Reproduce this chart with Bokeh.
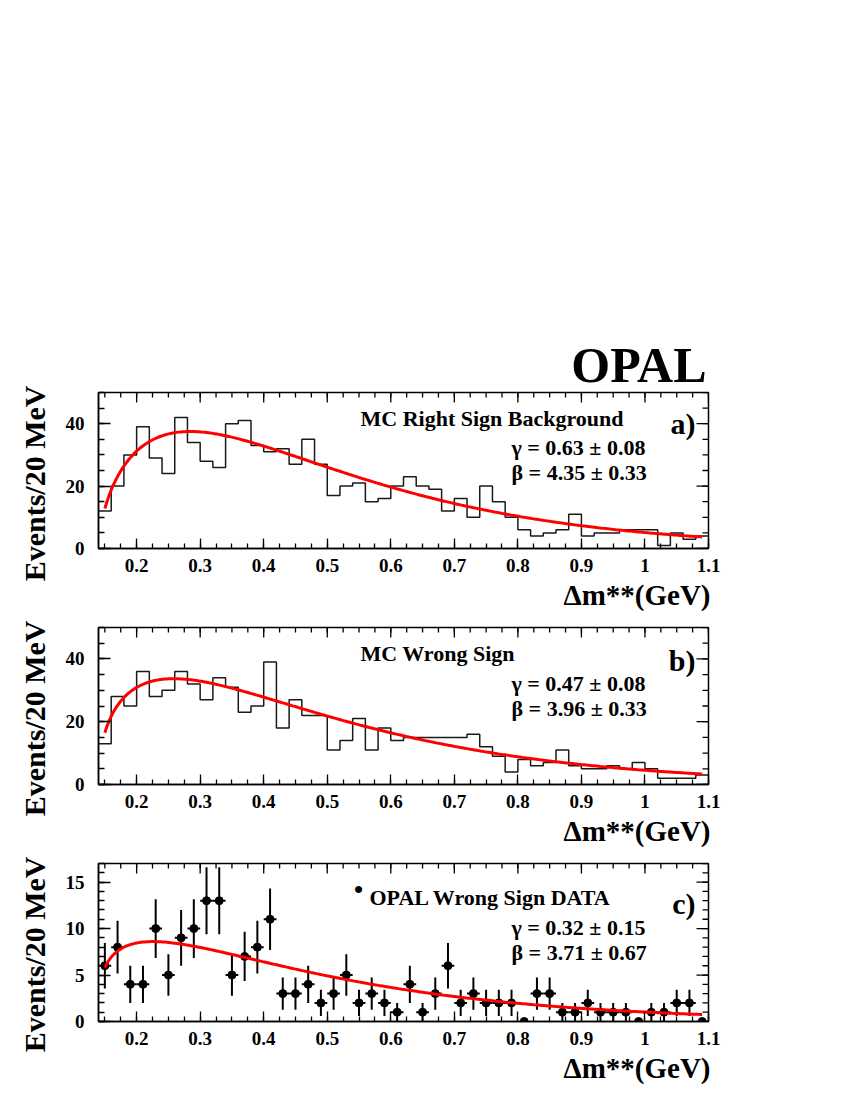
import numpy as np
from bokeh.plotting import figure
from bokeh.models import Range1d, FixedTicker, Label, Title
from bokeh.layouts import column
from bokeh.embed import file_html
from bokeh.resources import INLINE

# ---------------- data ----------------
bin_low = 0.14      # GeV, lower edge of first bin
bin_width = 0.02    # 20 MeV bins
n_bins = 48

counts_a = [12, 20, 30, 39, 29, 24, 42, 34, 28, 26, 40, 41, 33, 31, 32, 27, 35, 27, 17, 20,
            21, 15, 16, 20, 23, 20, 19, 12, 16, 10, 20, 15, 10, 6, 4, 5, 6, 11, 4, 5,
            5, 6, 6, 6, 1, 5, 3, 4]
counts_b = [13, 28, 25, 36, 28, 30, 36, 32, 27, 34, 31, 23, 25, 39, 18, 27, 22, 22, 11, 14,
            21, 11, 18, 14, 15, 15, 15, 15, 15, 16, 12, 9, 4, 8, 6, 7, 11, 6, 5, 5,
            6, 5, 7, 5, 2, 2, 2, 3]
counts_c = [6, 8, 4, 4, 10, 5, 9, 10, 13, 13, 5, 7, 8, 11, 3, 3, 4, 2, 3, 5,
            2, 3, 2, 1, 4, 1, 3, 6, 2, 3, 2, 2, 2, 0, 3, 3, 1, 1, 2, 1,
            1, 1, 0, 1, 1, 2, 2, 0]

# fit function  N * (dm - m_pi)^gamma * exp(-beta (dm - m_pi))
m_pi = 0.1396
fit_gamma = [0.63, 0.47, 0.32]
fit_beta = [4.35, 3.96, 3.71]
fit_peak = [37.5, 33.7, 8.6]       # curve maximum
fit_range = (0.15, 1.09)

panel_titles = ["MC Right Sign Background", "MC Wrong Sign", "OPAL Wrong Sign DATA"]
gamma_texts = ["\u03b3 = 0.63 \u00b1 0.08", "\u03b3 = 0.47 \u00b1 0.08", "\u03b3 = 0.32 \u00b1 0.15"]
beta_texts = ["\u03b2 = 4.35 \u00b1 0.33", "\u03b2 = 3.96 \u00b1 0.33", "\u03b2 = 3.71 \u00b1 0.67"]
panel_tags = ["a)", "b)", "c)"]
y_title = "Events/20 MeV"
x_title = "\u0394m**(GeV)"
experiment = "OPAL"

x_ticks = [0.2, 0.3, 0.4, 0.5, 0.6, 0.7, 0.8, 0.9, 1.0, 1.1]
x_tick_labels = ["0.2", "0.3", "0.4", "0.5", "0.6", "0.7", "0.8", "0.9", "1", "1.1"]
y_ticks_ab = [0, 20, 40]
y_ticks_c = [0, 5, 10, 15]
y_max = [50, 50, 17]

# ---------------- layout geometry (page pixels) ----------------
FONT = "Liberation Serif"
X0, X1 = 0.14, 1.10
PAGE_LEFT = 98
FRAME_W = 610
frame_tops = [392, 627, 863]
frame_hs = [156, 157, 158]
border_tops = [392, 9, 9]
border_bottoms = [70, 70, 71]

edges = [bin_low + i * bin_width for i in range(n_bins + 1)]
centers = [bin_low + (i + 0.5) * bin_width for i in range(n_bins)]
x_minor = [round(0.15 + 0.025 * k, 4) for k in range(39)]


def style_axis(ax, is_x, ticker):
    ax.ticker = ticker
    ax.axis_line_width = 1.5
    ax.axis_line_color = "black"
    ax.major_tick_line_width = 1.3
    ax.minor_tick_line_width = 1.3
    ax.major_tick_line_color = "black"
    ax.minor_tick_line_color = "black"
    ax.major_tick_out = 0
    ax.minor_tick_out = 0
    ax.major_tick_in = 10 if is_x else 12
    ax.minor_tick_in = 5 if is_x else 6
    ax.major_label_text_font = FONT
    ax.major_label_text_font_style = "bold"
    ax.major_label_text_color = "black"
    ax.major_label_text_font_size = "19px"


def make_panel(i):
    ymax = y_max[i]
    top = frame_tops[i]
    fh = frame_hs[i]
    bb = border_bottoms[i]
    p = figure(frame_width=FRAME_W, frame_height=fh, title=None,
               min_border_left=PAGE_LEFT, min_border_right=60,
               min_border_top=border_tops[i], min_border_bottom=bb,
               x_range=Range1d(X0, X1), y_range=Range1d(0, ymax),
               output_backend="svg", toolbar_location=None, tools="")
    p.xgrid.visible = False
    p.ygrid.visible = False
    p.outline_line_color = "black"
    p.outline_line_width = 1.5
    p.background_fill_color = "white"
    p.border_fill_color = "white"

    px_x = (X1 - X0) / FRAME_W     # data units per pixel
    px_y = ymax / fh

    def to_data(px, py):
        return (X0 + (px - PAGE_LEFT) * px_x, ymax - (py - top) * px_y)

    if i < 2:
        y_major, y_minor = y_ticks_ab, list(range(0, 51, 5))
    else:
        y_major, y_minor = y_ticks_c, list(range(0, 18))

    xax = p.xaxis[0]
    style_axis(xax, True, FixedTicker(ticks=x_ticks, minor_ticks=x_minor))
    xax.major_label_overrides = {t: l for t, l in zip(x_ticks, x_tick_labels)}
    xax.major_label_standoff = 10

    yax = p.yaxis[0]
    style_axis(yax, False, FixedTicker(ticks=y_major, minor_ticks=y_minor))
    yax.major_label_standoff = 14

    # mirrored tick marks on the top and right edges of the frame
    tk = dict(line_color="black", line_width=1.3)
    p.segment(x0=x_ticks, y0=[ymax] * len(x_ticks), x1=x_ticks,
              y1=[ymax - 10 * px_y] * len(x_ticks), **tk)
    p.segment(x0=x_minor, y0=[ymax] * len(x_minor), x1=x_minor,
              y1=[ymax - 5 * px_y] * len(x_minor), **tk)
    p.segment(x0=[X1] * len(y_major), y0=y_major, x1=[X1 - 12 * px_x] * len(y_major),
              y1=y_major, **tk)
    p.segment(x0=[X1] * len(y_minor), y0=y_minor, x1=[X1 - 6 * px_x] * len(y_minor),
              y1=y_minor, **tk)

    # data
    counts = [counts_a, counts_b, counts_c][i]
    if i < 2:
        p.step(x=edges, y=counts + [counts[-1]], mode="after",
               line_color="#1a1a1a", line_width=1.5)
    else:
        xs = [c for c, n in zip(centers, counts) if n > 0]
        ys = [n for n in counts if n > 0]
        err = [np.sqrt(n) for n in ys]
        p.segment(x0=xs, y0=[y - e for y, e in zip(ys, err)],
                  x1=xs, y1=[y + e for y, e in zip(ys, err)],
                  line_color="black", line_width=2)
        p.segment(x0=[x - bin_width / 2 for x in xs], y0=ys,
                  x1=[x + bin_width / 2 for x in xs], y1=ys,
                  line_color="black", line_width=2)
        p.scatter(x=centers, y=counts, size=8, color="black")

    # fit curve
    g, b, pk = fit_gamma[i], fit_beta[i], fit_peak[i]
    norm = pk / ((g / b) ** g * np.exp(-g))
    xf = np.linspace(fit_range[0], fit_range[1], 300)
    yf = norm * (xf - m_pi) ** g * np.exp(-b * (xf - m_pi))
    p.line(xf, yf, line_color="#ff0000", line_width=3)

    def label(text, px, py, size, align="left", baseline="alphabetic"):
        x, y = to_data(px, py)
        p.add_layout(Label(x=x, y=y, text=text, text_font=FONT, text_font_style="bold",
                           text_font_size=size, text_align=align, text_baseline=baseline,
                           text_color="black"))

    # texts inside the frame
    off = [0, 1, 9][i]
    if i < 2:
        label(panel_titles[i], 360, top + 26, "22px")
    else:
        label("\u2022", 358, top + 26, "26px", align="center", baseline="middle")
        label(panel_titles[i], 369, top + 34, "22px")
    label(gamma_texts[i], 511, top + 55 + off, "22px")
    label(beta_texts[i], 511, top + 80 + off, "22px")
    label(panel_tags[i], 695, top + [31, 33, 40][i], "30px", align="right")

    # y-axis title: rotated, its upper end just above the top of the frame
    p.add_layout(Title(text=y_title, align="right", offset=-7, standoff=24,
                       text_font=FONT, text_font_style="bold", text_font_size="30px",
                       text_color="black"), "left")

    # x-axis title below the tick labels, right aligned
    p.add_layout(Title(text=x_title, align="right", offset=-2, standoff=4,
                       text_font=FONT, text_font_style="bold", text_font_size="29px",
                       text_color="black"), "below")

    if i == 0:
        p.add_layout(Title(text=experiment, align="right", offset=2, standoff=0,
                           text_font=FONT, text_font_style="bold", text_font_size="50px",
                           text_color="black"), "above")
    return p


panels = [make_panel(i) for i in range(3)]
layout = column(*panels, spacing=0)

open("out.html", "w").write(file_html(layout, INLINE))
